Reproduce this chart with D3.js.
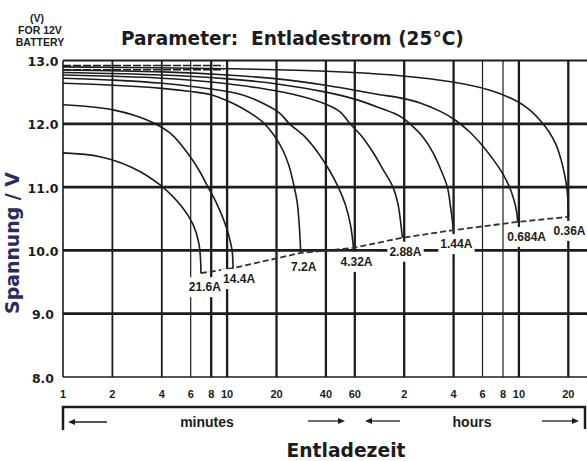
<!DOCTYPE html>
<html><head><meta charset="utf-8">
<script src="https://cdn.jsdelivr.net/npm/d3@7"></script>
<style>
html,body{margin:0;padding:0;background:#fff;}
svg{display:block;}
</style></head>
<body>
<svg id="chart" width="587" height="461"></svg>
<script>
// ---------- DATA ----------
const yTicks = [13.0, 12.0, 11.0, 10.0, 9.0, 8.0];
const xTickMinutes = [1, 2, 4, 6, 8, 10, 20, 40, 60, 120, 240, 360, 480, 600, 1200];
const xTickLabels = ["1","2","4","6","8","10","20","40","60","2","4","6","8","10","20"];
const currents = ["21.6A","14.4A","7.2A","4.32A","2.88A","1.44A","0.684A","0.36A"];

// [minutes, volts]
const curve_21_6A = [[1,11.54],[1.68,11.48],[2.63,11.31],[3.92,11.03],[5.33,10.68],[6.2,10.41],[6.72,10.12],[6.9,9.82],[6.92,9.64]];
const curve_14_4A = [[1,12.3],[1.46,12.27],[2.02,12.22],[2.74,12.13],[3.64,12.0],[4.61,11.83],[5.77,11.53],[6.73,11.27],[7.65,11.0],[8.57,10.76],[9.31,10.55],[10.13,10.28],[10.72,10.0],[10.88,9.72]];
const curve_7_2A  = [[1,12.64],[2.02,12.61],[4.01,12.56],[6.02,12.51],[7.98,12.46],[10.1,12.36],[12.3,12.25],[14.8,12.12],[16.9,12.0],[19.4,11.81],[21.8,11.59],[23.8,11.34],[25.2,11.09],[26.7,10.77],[27.5,10.41],[28.1,9.96]];
const curve_4_32A = [[1,12.72],[2.02,12.69],[4.01,12.64],[7.98,12.55],[12.3,12.46],[17.0,12.31],[20.9,12.17],[24.0,12.0],[29.9,11.79],[35.9,11.54],[41.9,11.27],[47.6,11.0],[52.6,10.72],[56.5,10.4],[58.9,10.04]];
const curve_2_88A = [[1,12.77],[2.02,12.75],[4.01,12.72],[7.98,12.66],[17.0,12.55],[27.8,12.44],[40.0,12.31],[48.8,12.19],[56.2,12.0],[66.3,11.8],[77.4,11.55],[89.1,11.28],[102.5,11.0],[110,10.73],[114,10.46],[117,10.2]];
const curve_1_44A = [[1,12.81],[4.01,12.77],[10.1,12.71],[20.2,12.63],[40.0,12.5],[59.9,12.39],[85.4,12.25],[113,12.12],[133,11.98],[156,11.79],[180,11.54],[201,11.27],[220,11.0],[229,10.72],[235,10.51],[239,10.32]];
const curve_0_684A= [[1,12.85],[4.01,12.82],[10.1,12.77],[20.2,12.71],[40.0,12.61],[59.9,12.53],[85.4,12.46],[113,12.41],[150,12.33],[198,12.2],[245,12.06],[301,11.87],[361,11.65],[420,11.43],[479,11.21],[528,10.99],[559,10.8],[581,10.61],[590,10.45]];
const curve_0_36A = [[1,12.9],[10.1,12.87],[40,12.83],[113,12.76],[237,12.66],[400,12.53],[580,12.36],[698,12.22],[804,12.06],[917,11.87],[1010,11.67],[1085,11.43],[1141,11.19],[1180,10.95],[1196,10.72],[1204,10.53]];
const curves = [curve_21_6A, curve_14_4A, curve_7_2A, curve_4_32A, curve_2_88A, curve_1_44A, curve_0_684A, curve_0_36A];
// faint dashed reference rows near the top
const topDashVolts = [12.92, 12.855];
const topDashSpan = [1, 9.5];

// ---------- LAYOUT ----------
const svg = d3.select("#chart");
const x = d3.scaleLog().domain([1, 1560]).range([63, 587]);
const y = d3.scaleLinear().domain([8, 13]).range([377, 60.5]);
const ink = "#1c1c1c";
const thinTicks = [6, 360, 480];

// horizontal grid
svg.append("g").selectAll("line").data(yTicks).join("line")
  .attr("x1", x(1)).attr("x2", 587)
  .attr("y1", d => y(d)).attr("y2", d => y(d))
  .attr("stroke", ink)
  .attr("stroke-width", d => d === 8 ? 1.6 : (d === 13 ? 2.2 : 2.8));

// vertical grid
svg.append("g").selectAll("line").data(xTickMinutes.slice(1)).join("line")
  .attr("x1", d => x(d)).attr("x2", d => x(d))
  .attr("y1", y(13)).attr("y2", y(8))
  .attr("stroke", ink)
  .attr("stroke-width", d => thinTicks.includes(d) ? 1.2 : (d <= 4 ? 1.8 : 2.3));

// left border
svg.append("line").attr("x1", x(1)).attr("x2", x(1)).attr("y1", y(13)).attr("y2", y(8))
  .attr("stroke", ink).attr("stroke-width", 1.6);

// end points of curves
const ends = curves.map(c => c[c.length - 1]);
const nudge = {"14.4A":[3,-3], "0.684A":[6,1], "21.6A":[1,0], "0.36A":[-2,0]};

// label backgrounds (mask the grid)
const labelG = svg.append("g");
const labels = labelG.selectAll("text").data(currents).join("text")
  .attr("x", (d,i) => x(ends[i][0]) + 3 + (nudge[d] ? nudge[d][0] : 0))
  .attr("y", (d,i) => y(ends[i][1]) + 14 + (nudge[d] ? nudge[d][1] : 0))
  .attr("text-anchor", "middle").attr("dominant-baseline", "central")
  .style("font-family", "'Liberation Sans', Arial, sans-serif")
  .style("font-weight", "bold").style("font-size", "12px")
  .attr("fill", ink).text(d => d);
labels.each(function() {
  const b = this.getBBox();
  labelG.insert("rect", "text")
    .attr("x", b.x - 2).attr("y", b.y - 3).attr("width", b.width + 4).attr("height", b.height + 6)
    .attr("fill", "#fff");
});

// curves
const line = d3.line().x(d => x(d[0])).y(d => y(d[1])).curve(d3.curveCatmullRom.alpha(0.5));
svg.append("g").selectAll("path").data(curves).join("path")
  .attr("d", line).attr("fill", "none").attr("stroke", ink).attr("stroke-width", 1.6);

// top dashed rows
svg.append("g").selectAll("line").data(topDashVolts).join("line")
  .attr("x1", x(topDashSpan[0])).attr("x2", x(topDashSpan[1]))
  .attr("y1", d => y(d)).attr("y2", d => y(d))
  .attr("stroke", ink).attr("stroke-width", 1.6).attr("stroke-dasharray", "8,2");

// dashed connector of end points
svg.append("path").datum(ends)
  .attr("d", d3.line().x(d => x(d[0])).y(d => y(d[1])))
  .attr("fill", "none").attr("stroke", "#333").attr("stroke-width", 1.8)
  .attr("stroke-dasharray", "6,3");

labelG.raise();

// y tick labels
svg.append("g").selectAll("text").data(yTicks).join("text")
  .attr("x", 43).attr("y", d => y(d) + 1)
  .attr("text-anchor", "middle").attr("dominant-baseline", "central")
  .style("font-family", "'DejaVu Sans', sans-serif").style("font-weight", "bold")
  .style("font-size", "12.5px").attr("fill", ink)
  .text(d => d.toFixed(1));

// x tick labels
svg.append("g").selectAll("text").data(xTickMinutes).join("text")
  .attr("x", d => x(d)).attr("y", 398)
  .attr("text-anchor", "middle")
  .style("font-family", "'Liberation Sans', Arial, sans-serif").style("font-weight", "bold")
  .style("font-size", "11px").attr("fill", ink)
  .text((d,i) => xTickLabels[i]);

// bracket
svg.append("path").attr("d", `M${x(1)},430 V407 H585 V429`)
  .attr("fill", "none").attr("stroke", ink).attr("stroke-width", 2.5);

// arrows
function arrow(x1, x2, yy) {
  const dir = Math.sign(x2 - x1);
  svg.append("line").attr("x1", x1).attr("x2", x2 - dir * 5).attr("y1", yy).attr("y2", yy)
    .attr("stroke", ink).attr("stroke-width", 1.3);
  svg.append("path").attr("d", `M${x2},${yy} L${x2 - dir * 7},${yy - 3} L${x2 - dir * 7},${yy + 3} Z`)
    .attr("fill", ink);
}
arrow(107, 68, 422);
arrow(308, 345, 421);
arrow(400, 365, 421);
arrow(542, 579, 421);

function fit(sel, target) {
  const w = sel.node().getComputedTextLength();
  const fs = parseFloat(sel.style("font-size"));
  sel.style("font-size", (fs * target / w) + "px");
}

svg.append("text").attr("x", 207).attr("y", 427).attr("text-anchor", "middle")
  .style("font-family", "'Liberation Sans', Arial, sans-serif").style("font-weight", "bold")
  .style("font-size", "14px").attr("fill", ink).text("minutes");
svg.append("text").attr("x", 472).attr("y", 427).attr("text-anchor", "middle")
  .style("font-family", "'Liberation Sans', Arial, sans-serif").style("font-weight", "bold")
  .style("font-size", "14px").attr("fill", ink).text("hours");

// axis titles
const xt = svg.append("text").attr("x", 346).attr("y", 457).attr("text-anchor", "middle")
  .style("font-family", "'DejaVu Sans', sans-serif").style("font-weight", "bold")
  .style("font-size", "18px").attr("fill", ink).text("Entladezeit");
fit(xt, 119);

const yt = svg.append("text").attr("transform", "translate(19,243) rotate(-90)")
  .attr("text-anchor", "middle")
  .style("font-family", "'DejaVu Sans', sans-serif").style("font-weight", "bold")
  .style("font-size", "18px").attr("fill", "#2b2b62").text("Spannung / V");
fit(yt, 142);

// title
const tt = svg.append("text").attr("x", 121).attr("y", 45)
  .style("font-family", "'DejaVu Sans', sans-serif").style("font-weight", "bold")
  .style("font-size", "18px").style("white-space", "pre").attr("fill", ink)
  .text("Parameter:  Entladestrom (25°C)");
fit(tt, 343);

// unit note
const note = svg.append("g").style("font-family", "'Liberation Sans', Arial, sans-serif")
  .style("font-weight", "bold").attr("fill", ink).attr("text-anchor", "middle");
note.append("text").attr("x", 37).attr("y", 22).style("font-size", "10.5px").text("(V)");
note.append("text").attr("x", 40).attr("y", 34).style("font-size", "10.5px").text("FOR 12V");
note.append("text").attr("x", 40).attr("y", 46).style("font-size", "10.5px").text("BATTERY");
</script>
</body></html>
